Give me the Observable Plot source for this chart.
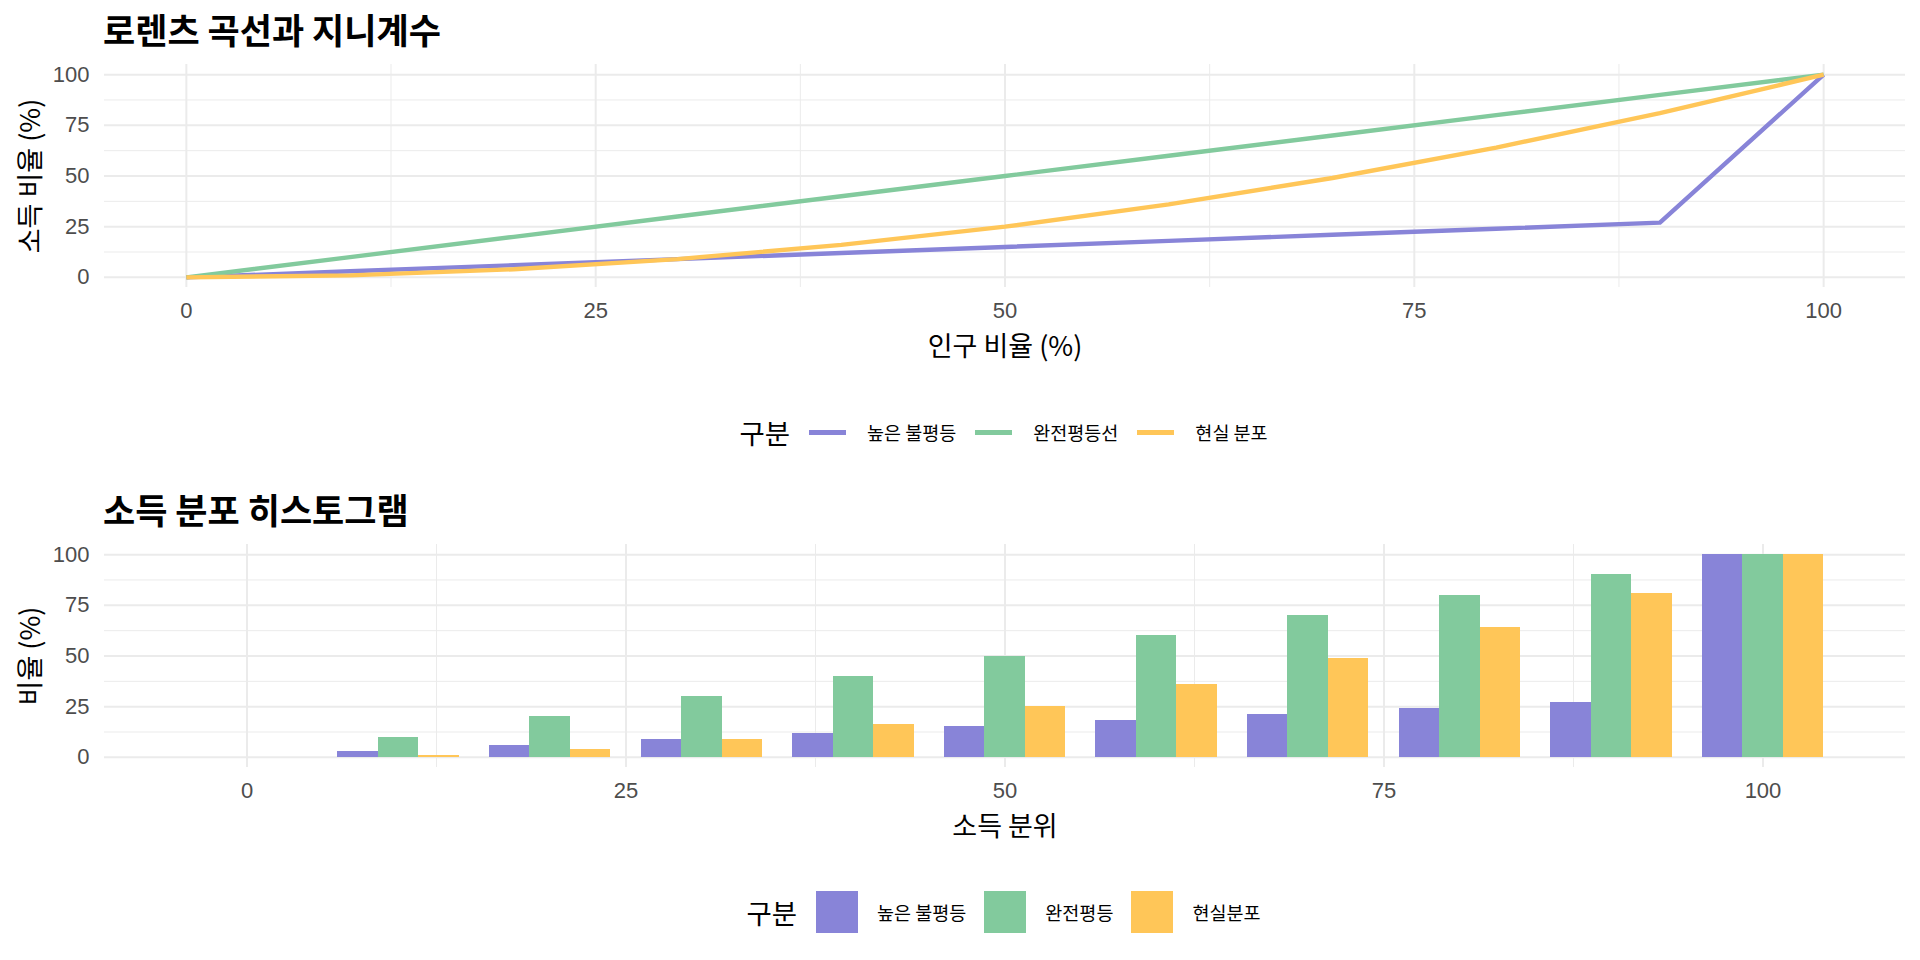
<!DOCTYPE html>
<html><head><meta charset="utf-8">
<script src="https://cdn.jsdelivr.net/npm/d3@7"></script>
<script src="https://cdn.jsdelivr.net/npm/@observablehq/plot@0.6"></script>
<style>
body{margin:0;background:#fff;width:1920px;height:960px;overflow:hidden;font-family:"Noto Sans CJK KR","Noto Sans",sans-serif;}
.chart{position:relative;width:1920px;height:480px;}
.title{position:absolute;left:103px;top:11px;font-size:35px;font-weight:700;line-height:1;color:#000;white-space:nowrap;}
.plot{position:absolute;left:0;top:50px;}
.legend{position:absolute;left:0;width:2007px;height:80px;top:392px;display:flex;justify-content:center;align-items:center;}
.legend .lt{font-size:27.5px;color:#000;margin-right:19px;}
.legend .lab{font-size:18.5px;color:#000;white-space:nowrap;}
</style>
</head><body>
<div class="chart" id="c1"></div>
<div class="chart" id="c2"></div>
<script>
// ---- data ----
const popShare = [0, 10, 20, 30, 40, 50, 60, 70, 80, 90, 100];
const highInequality = [0, 3, 6, 9, 12, 15, 18, 21, 24, 27, 100];
const perfectEquality = [0, 10, 20, 30, 40, 50, 60, 70, 80, 90, 100];
const actualDist = [0, 1, 4, 9, 16, 25, 36, 49, 64, 81, 100];
const incomeQuantiles = [0, 10, 20, 30, 40, 50, 60, 70, 80, 90, 100];
const lorenzSeries = ["높은 불평등", "완전평등선", "현실 분포"];
const histSeries = ["높은 불평등", "완전평등", "현실분포"];
const seriesColors = ["#8884d8", "#82ca9d", "#ffc658"];
const majorTicks = [0, 25, 50, 75, 100];
const minorTicks = [12.5, 37.5, 62.5, 87.5];
const titles = ["로렌츠 곡선과 지니계수", "소득 분포 히스토그램"];
const xTitles = ["인구 비율 (%)", "소득 분위"];
const yTitles = ["소득 비율 (%)", "비율 (%)"];
const legendTitle = "구분";

const seriesValues = [highInequality, perfectEquality, actualDist];
const numFont = "'Liberation Sans', Arial, sans-serif";
const krFont = "'Noto Sans CJK KR', sans-serif";

function gridMarks() {
  return [
    Plot.ruleX(minorTicks, {stroke: "#ebebeb", strokeWidth: 1}),
    Plot.ruleY(minorTicks, {stroke: "#ebebeb", strokeWidth: 1}),
    Plot.ruleX(majorTicks, {stroke: "#ebebeb", strokeWidth: 2}),
    Plot.ruleY(majorTicks, {stroke: "#ebebeb", strokeWidth: 2}),
    Plot.axisX(majorTicks, {tickSize: 0, tickPadding: 15, fontSize: 22, color: "#4d4d4d", fontFamily: numFont, label: null}),
    Plot.axisY(majorTicks, {tickSize: 0, tickPadding: 15, fontSize: 22, color: "#4d4d4d", fontFamily: numFont, label: null})
  ];
}
function titleMarks(k) {
  return [
    Plot.text([xTitles[k]], {text: d => d, frameAnchor: "bottom", dy: 60, textAnchor: "middle", lineAnchor: "middle", fontSize: 27, fill: "#000", fontFamily: krFont}),
    Plot.text([yTitles[k]], {text: d => d, frameAnchor: "left", dx: -73, rotate: -90, textAnchor: "middle", lineAnchor: "middle", fontSize: 27, fill: "#000", fontFamily: krFont})
  ];
}
const common = {width: 1920, height: 340, marginLeft: 104, marginRight: 15, marginTop: 14, marginBottom: 103,
  style: {background: "transparent", overflow: "visible"}};

// ---- chart 1: Lorenz curves ----
const lorenzRows = lorenzSeries.flatMap((s, j) => popShare.map((p, i) => ({x: p, y: seriesValues[j][i], s})));
const p1 = Plot.plot({
  ...common,
  x: {domain: [-5, 105], label: null},
  y: {domain: [-5, 105], label: null},
  color: {domain: lorenzSeries, range: seriesColors},
  marks: [
    ...gridMarks(),
    Plot.line(lorenzRows, {x: "x", y: "y", z: "s", stroke: "s", strokeWidth: 4.4, strokeLinecap: "butt"}),
    ...titleMarks(0)
  ]
});

// ---- chart 2: histogram ----
const barW = 8;
const barRows = histSeries.flatMap((s, j) => incomeQuantiles.map((q, i) => ({q, j, s, v: seriesValues[j][i]})));
const p2 = Plot.plot({
  ...common,
  x: {domain: [-9.4, 109.4], label: null},
  y: {domain: [-5, 105], label: null},
  color: {domain: histSeries, range: seriesColors},
  marks: [
    ...gridMarks(),
    Plot.rect(barRows, {x1: d => d.q - barW / 2 + d.j * barW / 3, x2: d => d.q - barW / 2 + (d.j + 1) * barW / 3, y1: 0, y2: "v", fill: "s", shapeRendering: "crispEdges"}),
    ...titleMarks(1)
  ]
});

function build(id, k, plot, series, lineKey) {
  const c = document.getElementById(id);
  const t = document.createElement("div"); t.className = "title"; t.textContent = titles[k]; c.appendChild(t);
  const pw = document.createElement("div"); pw.className = "plot"; pw.appendChild(plot); c.appendChild(pw);
  const lg = document.createElement("div"); lg.className = "legend";
  const lt = document.createElement("span"); lt.className = "lt"; lt.textContent = legendTitle; lg.appendChild(lt);
  series.forEach((s, j) => {
    const key = document.createElement("span");
    if (lineKey) {
      key.style.cssText = `display:inline-block;width:37px;height:5px;background:${seriesColors[j]};margin-left:${j ? 19 : 0}px;`;
    } else {
      key.style.cssText = `display:inline-block;width:42px;height:42px;background:${seriesColors[j]};margin-left:${j ? 18 : 0}px;`;
    }
    lg.appendChild(key);
    const lab = document.createElement("span"); lab.className = "lab"; lab.textContent = s;
    lab.style.marginLeft = (lineKey ? 21 : 19) + "px";
    lg.appendChild(lab);
  });
  c.appendChild(lg);
}
build("c1", 0, p1, lorenzSeries, true);
build("c2", 1, p2, histSeries, false);
</script>
</body></html>
